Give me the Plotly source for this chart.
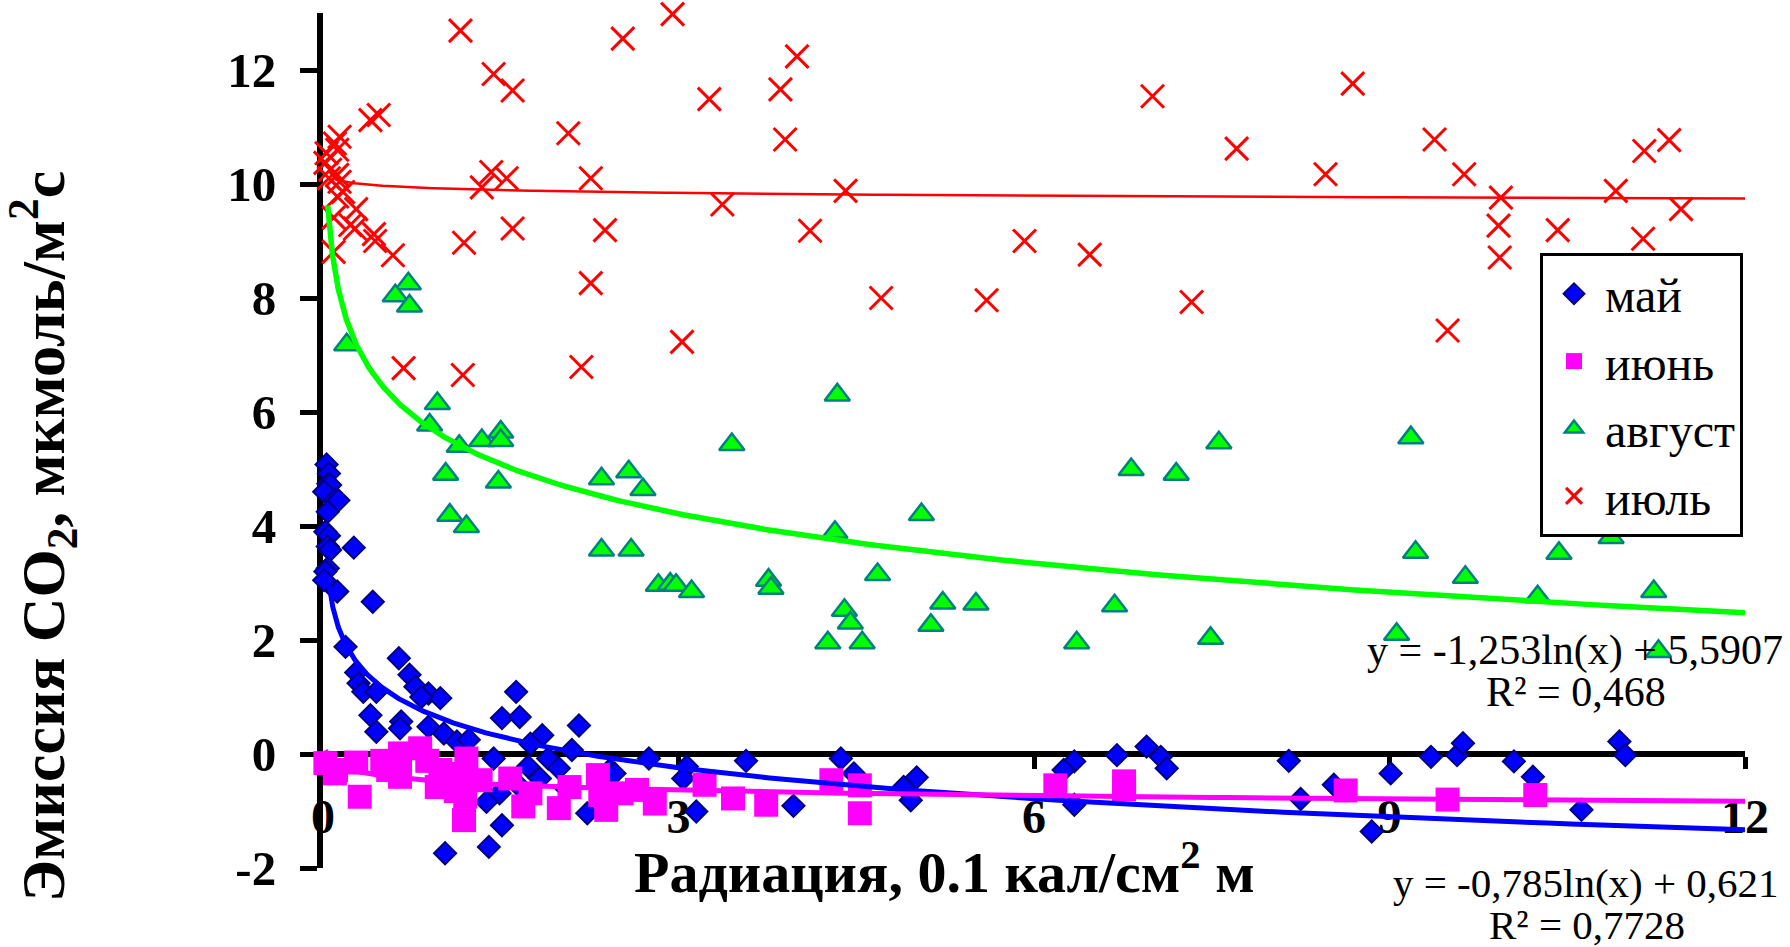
import numpy as np
import plotly.graph_objects as go

# ---------------- data ----------------
may_x = [0.03, 0.05, 0.045, 0.06, 0.01, 0.10, 0.13, 0.04, 0.02, 0.05, 0.04, 0.06, 0.26, 0.04, 0.02, 0.01,
         0.12, 0.42, 0.19, 0.64, 0.28, 0.73, 0.30, 0.34, 0.45, 0.78, 0.89, 0.99, 0.83, 1.63, 0.40, 0.66,
         0.45, 0.65, 1.51, 1.66, 2.16, 0.89, 1.02, 1.13, 1.23, 1.85, 1.75, 2.10, 1.44, 1.90, 2.75, 3.07,
         3.57, 1.73, 1.99, 2.42, 2.46, 1.83, 3.04, 1.49, 1.38, 2.23, 3.15, 3.97, 1.51, 1.03, 1.40,
         1.25, 1.65, 2.05,
         4.37, 4.48, 5.01, 4.90, 4.96, 6.34, 6.25, 6.34, 6.70, 6.95, 7.07, 7.12, 8.15, 8.25, 8.53, 8.85,
         9.01, 9.35, 9.57, 9.62, 10.05, 10.21, 10.62, 10.94, 10.99]
may_y = [5.08, 4.92, 4.74, 4.72, 4.60, 4.46, 4.45, 4.25, 3.90, 3.83, 3.64, 3.58, 3.62, 3.26, 3.20, 3.05,
         2.85, 2.67, 1.88, 1.68, 1.43, 1.39, 1.24, 1.09, 1.09, 1.18, 1.06, 0.98, 1.00, 1.09, 0.68, 0.57,
         0.39, 0.45, 0.63, 0.65, 0.50, 0.48, 0.36, 0.22, 0.25, 0.33, 0.18, 0.07, -0.08, -0.08, -0.08, -0.22,
         -0.12, -0.22, -0.25, -0.28, -0.34, -0.43, -0.43, -0.69, -0.84, -1.04, -1.01, -0.91, -1.25, -1.74, -1.63,
         -0.35, -0.55, -0.60,
         -0.08, -0.34, -0.41, -0.58, -0.81, -0.13, -0.28, -0.89, -0.02, 0.13, -0.05, -0.25, -0.12, -0.79, -0.54, -1.36,
         -0.34, -0.05, -0.02, 0.19, -0.13, -0.40, -0.98, 0.22, -0.02]

jun_x = [0.02, 0.11, 0.10, 0.28, 0.31, 0.50, 0.55, 0.65, 0.65, 0.82, 0.88, 0.99, 0.96, 1.21, 1.18, 1.33,
         1.20, 1.19, 1.05, 1.12, 1.58, 1.69, 1.75, 1.99, 2.08, 2.32, 2.34, 2.39, 2.52, 2.65, 2.80, 3.22,
         3.46, 3.74, 4.29, 4.53, 4.53, 6.18, 6.76, 6.76, 8.63, 9.49, 10.23]
jun_y = [-0.16, -0.28, -0.34, -0.15, -0.75, -0.12, -0.28, 0.01, -0.40, 0.10, -0.12, -0.28, -0.58, -0.08, -0.35, -0.46,
         -0.75, -1.16, -0.45, -0.65, -0.43, -0.92, -0.69, -0.95, -0.58, -0.37, -0.72, -0.98, -0.69, -0.63, -0.87, -0.54,
         -0.78, -0.89, -0.46, -0.55, -1.04, -0.55, -0.48, -0.62, -0.64, -0.80, -0.72]

aug_x = [0.72, 0.61, 0.73, 0.20, 0.965, 0.90, 1.15, 1.34, 1.50, 1.50, 3.45, 1.035, 1.48, 2.35, 2.58, 2.70,
         1.07, 1.21, 2.35, 2.60, 2.83, 2.93, 2.98, 3.11, 3.76, 3.78, 4.34, 4.32, 5.05, 4.68, 4.40, 4.45,
         4.26, 4.55, 5.23, 5.13, 5.51, 6.36, 6.68, 6.82, 7.20, 7.56, 7.49, 9.18, 9.22, 9.06, 9.64, 10.25,
         10.43, 10.87, 11.23, 11.27]
aug_y = [8.25, 8.04, 7.86, 7.18, 6.15, 5.77, 5.40, 5.50, 5.65, 5.50, 5.43, 4.91, 4.77, 4.83, 4.95, 4.64,
         4.19, 3.99, 3.58, 3.58, 2.96, 2.98, 2.96, 2.85, 3.05, 2.91, 6.30, 3.89, 4.20, 3.15, 2.52, 2.30,
         1.95, 1.95, 2.65, 2.26, 2.63, 1.95, 2.60, 4.99, 4.91, 5.46, 2.03, 5.55, 3.54, 2.10, 3.10, 2.76,
         3.52, 3.80, 2.85, 1.80]

jul_x = [0.02, 0.03, 0.06, 0.10, 0.14, 0.12, 0.14, 0.17, 0.05, 0.12, 0.09, 0.28, 0.23, 0.27, 0.43, 0.44,
         0.59, 0.09, 0.40, 0.47, 0.12,
         1.16, 2.53, 2.95, 4.00, 1.44, 1.60, 3.26, 3.86, 2.07, 3.90, 1.42, 1.55, 1.34, 2.26, 3.37, 1.60,
         2.38, 4.11, 1.19, 2.26, 0.68, 1.18, 2.18, 3.03, 4.41, 4.71, 7.00, 7.71, 8.69, 8.46, 5.92, 6.47,
         5.60, 7.33, 9.38, 9.63, 9.94, 9.92, 9.93, 9.49, 10.42, 10.91, 11.15, 11.36, 11.46, 11.14]
jul_y = [10.37, 10.54, 10.25, 10.71, 10.83, 10.16, 10.04, 9.86, 10.10, 9.78, 9.41, 9.56, 9.28, 9.22, 9.12, 9.00,
         8.75, 8.81, 11.12, 11.21, 10.60,
         12.69, 12.55, 12.98, 12.24, 11.93, 11.64, 11.49, 11.66, 10.89, 10.78, 10.21, 10.10, 9.94, 10.10, 9.64, 9.22,
         9.19, 9.18, 8.97, 8.26, 6.77, 6.65, 6.79, 7.23, 9.88, 8.00, 11.54, 10.62, 11.76, 10.17, 9.00, 8.76,
         7.96, 7.93, 10.78, 10.17, 9.76, 9.27, 8.71, 7.43, 9.19, 9.88, 10.58, 10.77, 9.56, 9.04]

# logarithmic trendlines y = a*ln(x) + b  (a, b, first x)
trend_may = (-0.785, 0.621, 0.045)
trend_jun = (-0.14, -0.48, 0.02)
trend_aug = (-1.253, 5.5907, 0.04)
trend_jul = (-0.07, 9.92, 0.10)

eq_aug = ["y = -1,253ln(x) + 5,5907", "R² = 0,468"]
eq_may = ["y = -0,785ln(x) + 0,621", "R² = 0,7728"]

x_ticks = [0, 3, 6, 9, 12]
y_ticks = [-2, 0, 2, 4, 6, 8, 10, 12]

FONT = "Liberation Serif"

fig = go.Figure()

fig.add_trace(go.Scatter(x=may_x, y=may_y, mode="markers", name="май", legendgroup="g1",
                         marker=dict(symbol="diamond", size=17, color="#0000FF",
                                     line=dict(color="#000080", width=2)), cliponaxis=False))
fig.add_trace(go.Scatter(x=jun_x, y=jun_y, mode="markers", name="июнь", legendgroup="g2",
                         marker=dict(symbol="square", size=24, color="#FF00FF",
                                     line=dict(width=0)), cliponaxis=False))
fig.add_trace(go.Scatter(x=aug_x, y=aug_y, mode="markers", name="август", legendgroup="g3",
                         marker=dict(symbol="triangle-up", size=22, color="#00FF00",
                                     line=dict(color="#008080", width=2.5)), cliponaxis=False))
fig.add_trace(go.Scatter(x=jul_x, y=jul_y, mode="markers", name="июль", legendgroup="g4",
                         marker=dict(symbol="x-thin", size=23, color="#FF0000",
                                     line=dict(color="#FF0000", width=3)), cliponaxis=False))

for (a, b, x0), col, w in [(trend_may, "#0000FF", 5), (trend_jun, "#FF00FF", 5),
                           (trend_aug, "#00FF00", 5.5), (trend_jul, "#FF0000", 2.5)]:
    tx = np.geomspace(x0, 12, 300)
    fig.add_trace(go.Scatter(x=tx, y=a * np.log(tx) + b, mode="lines", showlegend=False,
                             line=dict(color=col, width=w), hoverinfo="skip"))

L, R, T, B = 323, 45, 13, 79
W, H = 1790, 947
pw, ph = W - L - R, H - T - B


def px(xp):
    return (xp - L) / pw


def py(yp):
    return (H - B - yp) / ph


fig.update_layout(
    width=W, height=H,
    margin=dict(l=L, r=R, t=T, b=B, pad=0),
    paper_bgcolor="white", plot_bgcolor="white",
    font=dict(family=FONT, color="black"),
    showlegend=True,
    legend=dict(x=px(1540), y=py(253), xanchor="left", yanchor="top",
                bgcolor="white", bordercolor="black", borderwidth=3,
                font=dict(family=FONT, size=48, color="black"),
                traceorder="grouped", tracegroupgap=2, itemsizing="trace", itemwidth=52,
                entrywidth=150),
    xaxis=dict(range=[0, 12], tickvals=x_ticks, ticktext=[str(v) for v in x_ticks],
               anchor="free", position=2 / 15, showgrid=False, zeroline=False,
               showline=True, linecolor="black", linewidth=6,
               ticks="outside", ticklen=12, tickwidth=5, tickcolor="black",
               ticklabelstandoff=6, layer="below traces",
               tickfont=dict(family=FONT, size=48, color="black", weight="bold")),
    yaxis=dict(range=[-2, 13], tickvals=y_ticks, ticktext=[str(v) for v in y_ticks],
               showgrid=False, zeroline=False,
               showline=True, linecolor="black", linewidth=6,
               ticks="outside", ticklen=17, tickwidth=5, tickcolor="black",
               ticklabelstandoff=14, layer="below traces",
               tickfont=dict(family=FONT, size=49, color="black", weight="bold")),
)

annots = [
    dict(text="<b>Эмиссия CO<sub>2</sub>, мкмоль/м<sup>2</sup>с</b>", x=px(42), y=py(537),
         textangle=-90, font=dict(size=62)),
    dict(text="<b>Радиация, 0.1 кал/см<sup>2</sup> м</b>", x=px(944), y=py(868), font=dict(size=58)),
    dict(text=eq_aug[0], x=px(1575), y=py(650), font=dict(size=42)),
    dict(text=eq_aug[1], x=px(1576), y=py(692), font=dict(size=42)),
    dict(text=eq_may[0], x=px(1586), y=py(883), font=dict(size=41)),
    dict(text=eq_may[1], x=px(1587), y=py(925), font=dict(size=41)),
]
for an in annots:
    f = dict(family=FONT, color="black")
    f.update(an.pop("font"))
    fig.add_annotation(xref="paper", yref="paper", xanchor="center", yanchor="middle",
                       showarrow=False, font=f, **an)

fig.write_html("out.html", config={"displayModeBar": False},
               post_script="document.body.style.margin='0px';")
